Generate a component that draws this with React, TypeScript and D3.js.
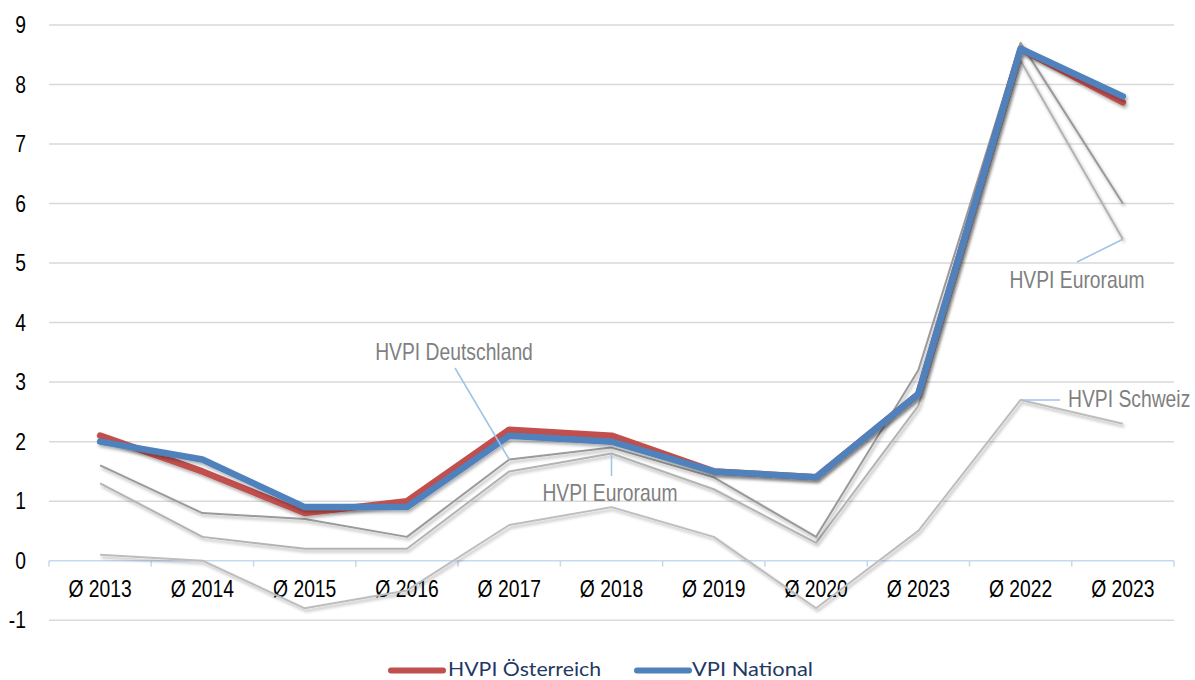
import React from "react";
import * as d3 from "d3";

const categories = ["Ø 2013", "Ø 2014", "Ø 2015", "Ø 2016", "Ø 2017", "Ø 2018", "Ø 2019", "Ø 2020", "Ø 2023", "Ø 2022", "Ø 2023"];
const hvpiOesterreich = [2.1, 1.5, 0.8, 1.0, 2.2, 2.1, 1.5, 1.4, 2.8, 8.6, 7.7];
const vpiNational = [2.0, 1.7, 0.9, 0.9, 2.1, 2.0, 1.5, 1.4, 2.8, 8.6, 7.8];
const hvpiDeutschland = [1.6, 0.8, 0.7, 0.4, 1.7, 1.9, 1.4, 0.4, 3.2, 8.7, 6.0];
const hvpiEuroraum = [1.3, 0.4, 0.2, 0.2, 1.5, 1.8, 1.2, 0.3, 2.6, 8.4, 5.4];
const hvpiSchweiz = [0.1, 0.0, -0.8, -0.5, 0.6, 0.9, 0.4, -0.8, 0.5, 2.7, 2.3];
const yTicks = [-1, 0, 1, 2, 3, 4, 5, 6, 7, 8, 9];

const W = 1195;
const H = 680;
const SX = 0.84;
const FONT = "'Liberation Sans', Arial, sans-serif";

export default function App() {
  const idx = categories.map((_, i) => i);
  const xb = d3.scaleBand<number>().domain(idx).range([49, 1174]).padding(0);
  const xc = (i: number) => (xb(i) as number) + xb.bandwidth() / 2;
  const y = d3.scaleLinear().domain([-1, 9]).range([620.2, 25]);
  const line = d3
    .line<number>()
    .x((_, i) => xc(i))
    .y((d) => y(d));

  const grays = [
    { data: hvpiSchweiz, color: "#bdbdbd" },
    { data: hvpiEuroraum, color: "#b3b3b3" },
    { data: hvpiDeutschland, color: "#9a9a9a" },
  ];

  const boundaries = idx.map((i) => xb(i) as number).concat([1174]);

  const annText = (x: number, yb: number, t: string, anchor: string) => (
    <g transform={`translate(${x},${yb}) scale(${SX},1)`}>
      <text x={0} y={0} textAnchor={anchor} fontFamily={FONT} fontSize={23} fill="#7f7f7f">
        {t}
      </text>
    </g>
  );

  const leader = "#9dc3e6";

  return (
    <svg width={W} height={H} style={{ position: "absolute", left: 0, top: 0, background: "#fff" }}>
      <defs>
        <filter id="shadow" x="-10%" y="-10%" width="120%" height="120%">
          <feDropShadow dx={1.5} dy={2.5} stdDeviation={1.6} floodColor="#000" floodOpacity={0.3} />
        </filter>
      </defs>

      {/* gridlines */}
      {yTicks
        .filter((t) => t !== 0)
        .map((t) => (
          <line key={t} x1={49} x2={1174} y1={y(t)} y2={y(t)} stroke="#d9d9d9" strokeWidth={1.5} />
        ))}

      {/* x axis line at 0 with ticks */}
      <line x1={49} x2={1174} y1={y(0)} y2={y(0)} stroke="#c5d9f1" strokeWidth={1.5} />
      {boundaries.map((b, i) => (
        <line key={i} x1={b} x2={b} y1={y(0)} y2={y(0) + 6} stroke="#c5d9f1" strokeWidth={1.5} />
      ))}

      {/* y labels */}
      {yTicks.map((t) => (
        <g key={t} transform={`translate(26,${y(t) + 8}) scale(${SX},1)`}>
          <text textAnchor="end" fontFamily={FONT} fontSize={23} fill="#000">
            {t}
          </text>
        </g>
      ))}

      {/* x labels */}
      {categories.map((c, i) => (
        <g key={i} transform={`translate(${xc(i)},596.5) scale(${SX},1)`}>
          <text textAnchor="middle" fontFamily={FONT} fontSize={23} fill="#000">
            {c}
          </text>
        </g>
      ))}

      {/* gray series */}
      {grays.map((g, i) => (
        <path
          key={i}
          d={line(g.data) as string}
          fill="none"
          stroke={g.color}
          strokeWidth={2}
          strokeLinejoin="round"
          filter="url(#shadow)"
        />
      ))}

      {/* main series */}
      <path
        d={line(hvpiOesterreich) as string}
        fill="none"
        stroke="#c0504d"
        strokeWidth={6.5}
        strokeLinejoin="round"
        strokeLinecap="round"
        filter="url(#shadow)"
      />
      <path
        d={line(vpiNational) as string}
        fill="none"
        stroke="#4f81bd"
        strokeWidth={6.5}
        strokeLinejoin="round"
        strokeLinecap="round"
        filter="url(#shadow)"
      />

      {/* annotations */}
      <line x1={455} y1={368} x2={xc(4)} y2={y(hvpiDeutschland[4])} stroke={leader} strokeWidth={1.5} />
      {annText(454, 360, "HVPI Deutschland", "middle")}

      <line x1={xc(5)} y1={y(hvpiEuroraum[5])} x2={xc(5)} y2={476} stroke={leader} strokeWidth={1.5} />
      {annText(610, 501, "HVPI Euroraum", "middle")}

      <line x1={1077} y1={262} x2={xc(10)} y2={y(hvpiEuroraum[10])} stroke={leader} strokeWidth={1.5} />
      {annText(1077, 288, "HVPI Euroraum", "middle")}

      <line x1={xc(9)} y1={y(hvpiSchweiz[9])} x2={1060} y2={y(hvpiSchweiz[9])} stroke={leader} strokeWidth={1.5} />
      {annText(1068, 407, "HVPI Schweiz", "start")}

      {/* legend */}
      <line x1={391} x2={443} y1={670.5} y2={670.5} stroke="#c0504d" strokeWidth={6} strokeLinecap="round" />
      <text x={448} y={676} fontFamily="Lato, 'Open Sans', sans-serif" fontSize={20} fill="#1f3864" textLength={153} lengthAdjust="spacingAndGlyphs">
        HVPI Österreich
      </text>
      <line x1={637} x2={689} y1={670.5} y2={670.5} stroke="#4f81bd" strokeWidth={6} strokeLinecap="round" />
      <text x={692} y={676} fontFamily="Lato, 'Open Sans', sans-serif" fontSize={20} fill="#1f3864" textLength={121} lengthAdjust="spacingAndGlyphs">
        VPI National
      </text>
    </svg>
  );
}
